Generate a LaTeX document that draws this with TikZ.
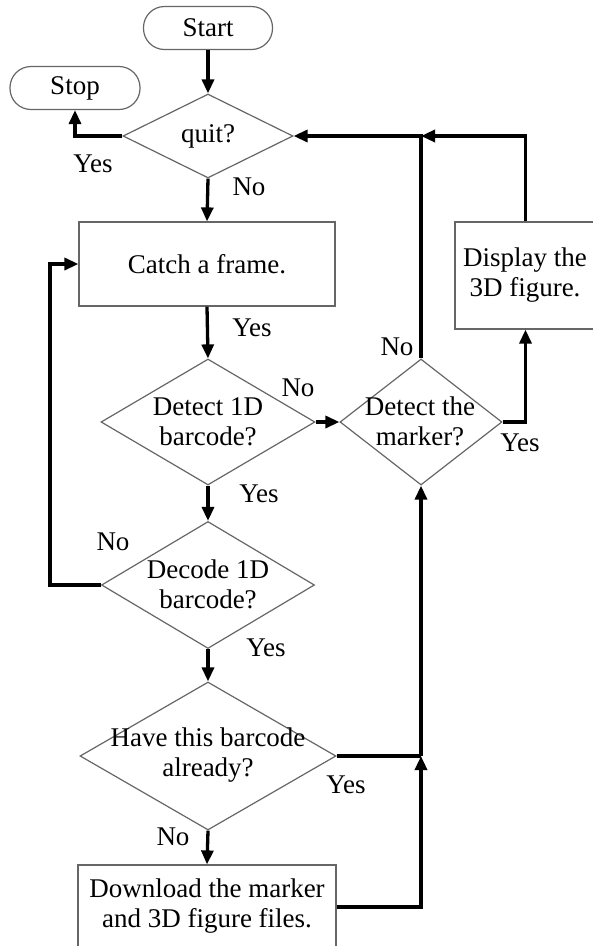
\documentclass[tikz,border=0pt]{standalone}
\usepackage{fontspec}
\setmainfont{Liberation Serif}
\usetikzlibrary{shapes.geometric,arrows.meta}
\begin{document}
\begin{tikzpicture}[x=1pt,y=-1pt,
  every node/.style={font=\fontsize{27}{30}\selectfont, inner sep=0pt},
  shp/.style={draw=black!60, line width=1.2pt},
  term/.style={shp, rectangle, rounded corners=21pt, minimum width=#1, minimum height=43pt},
  proc/.style={shp, rectangle},
  dia/.style={shp, diamond, minimum width=#1},
  txt/.style={align=center},
  lbl/.style={},
  conn/.style={line width=3.3pt, -{Triangle[length=14pt,width=12pt]}},
  plain/.style={line width=3.3pt}
]
\useasboundingbox (0,0) rectangle (593,946);

% shapes
\node[term=129pt] (start) at (208,28) {Start};
\node[term=130pt] (stop) at (75,88) {Stop};
\node[dia=170pt, minimum height=84pt] (quit) at (208,136) {};
\node[txt] (quitt) at (208,136) {quit?};
\node[proc, minimum width=256pt, minimum height=84pt] (catch) at (207,264) {};
\node[txt] (catcht) at (207,264) {Catch a frame.};
\node[proc, minimum width=141pt, minimum height=107pt] (disp) at (525.5,275.5) {};
\node[txt] (dispt) at (525,275) {Display the\\3D figure.};
\node[dia=214pt, minimum height=126pt] (d1) at (208,422) {};
\node[txt] (d1t) at (208,422) {Detect 1D\\barcode?};
\node[dia=162pt, minimum height=126pt] (dm) at (421,422) {};
\node[txt] (dmt) at (420,421) {Detect the\\marker?};
\node[dia=213pt, minimum height=127pt] (dec) at (208,585) {};
\node[txt] (dect) at (208,584) {Decode 1D\\barcode?};
\node[dia=256pt, minimum height=148pt] (have) at (208,756) {};
\node[txt] (havet) at (208,755) {Have this barcode\\already?};
\node[proc, minimum width=258pt, minimum height=84pt] (down) at (207,907) {};
\node[txt] (downt) at (207,906) {Download the marker\\and 3D figure files.};

% junctions
\coordinate (j1) at (dm.north |- quit.east);
\coordinate (j2) at (50,585);
\coordinate (j3) at (dm.south |- have.east);

% connectors
\draw[conn] (start.south) -- (quit.north);
\draw[conn] (quit.west) -| (stop.south);
\draw[conn] (quit.south) -- (catch.north);
\draw[conn] (catch.south) -- (d1.north);
\draw[conn] (d1.east) -- (dm.west);
\draw[conn] (dm.north) -- (j1) -- (quit.east);
\draw[conn] (dm.east) -| (disp.south);
\draw[conn] (disp.north) |- (j1);
\draw[conn] (d1.south) -- (dec.north);
\draw[conn] (dec.west) -- (j2) |- (catch.west);
\draw[conn] (dec.south) -- (have.north);
\draw[plain] (have.east) -- (j3);
\draw[conn] (j3) -- (dm.south);
\draw[conn] (have.south) -- (down.north);
\draw[conn] (down.east) -| (j3);

% labels
\node[lbl] (l1) at (93,164) {Yes};
\node[lbl] (l2) at (249,187) {No};
\node[lbl] (l3) at (252,328) {Yes};
\node[lbl] (l4) at (298,388) {No};
\node[lbl] (l5) at (259,494) {Yes};
\node[lbl] (l6) at (397,347) {No};
\node[lbl] (l7) at (520,443) {Yes};
\node[lbl] (l8) at (113,542) {No};
\node[lbl] (l9) at (266,648) {Yes};
\node[lbl] (l10) at (346,785) {Yes};
\node[lbl] (l11) at (173,837) {No};
\end{tikzpicture}
\end{document}
